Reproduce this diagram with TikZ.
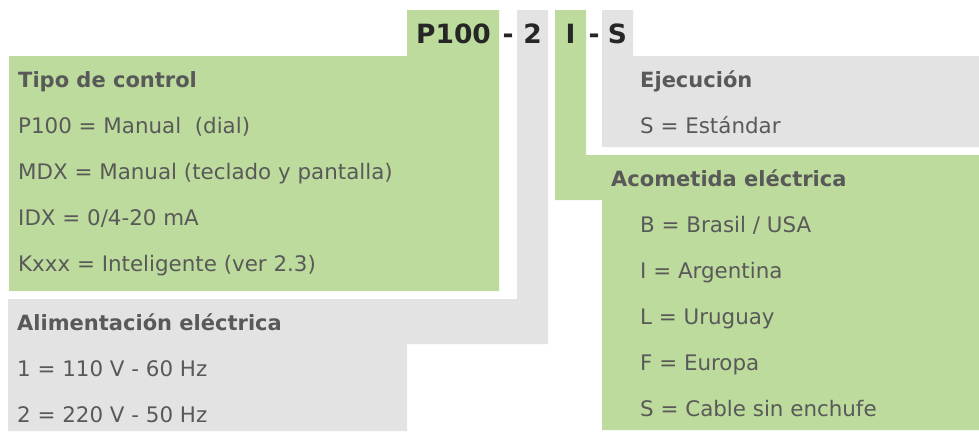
\documentclass[tikz,border=0pt]{standalone}
\usepackage{fontspec}
\setmainfont{DejaVu Sans}
\definecolor{panelgreen}{HTML}{BDDB9C}
\definecolor{panelgray}{HTML}{E3E3E3}
\definecolor{textgray}{HTML}{595959}
\definecolor{codeblack}{HTML}{262626}
\tikzset{
  item/.style={anchor=base west, inner sep=0pt, text=textgray, font=\fontsize{21.4}{25}\selectfont},
  head/.style={item, font=\fontsize{21}{25}\selectfont\bfseries},
  code/.style={anchor=base, inner sep=0pt, text=codeblack, font=\fontsize{26.5}{30}\selectfont\bfseries}
}

\begin{document}
\begin{tikzpicture}[x=1pt, y=-1pt]
  \useasboundingbox (0,0) rectangle (979,431);

  % Draw the panels
  \fill[panelgreen] (407,10) -- (499,10) -- (499,291) -- (9,291) -- (9,56) -- (407,56) -- cycle;
  \fill[panelgray] (517,10) -- (548,10) -- (548,344) -- (407,344) -- (407,431) -- (8,431) -- (8,299) -- (517,299) -- cycle;
  \fill[panelgreen] (555,10) -- (586,10) -- (586,155) -- (979,155) -- (979,430) -- (602,430) -- (602,200) -- (555,200) -- cycle;
  \fill[panelgray] (602,10) -- (633,10) -- (633,56) -- (979,56) -- (979,147) -- (602,147) -- cycle;

  % Model code
  \node[code] (cP) at (453.5,43) {P100};
  \node[code] (d1) at (508,43) {-};
  \node[code] (c2) at (532.5,43) {2};
  \node[code] (cI) at (570.5,43) {I};
  \node[code] (d2) at (594,43) {-};
  \node[code] (cS) at (617.5,43) {S};

  % Tipo de control
  \node[head] (tipo) at (18,87) {Tipo de control};
  \node[item] (tipo1) at (18,133) {P100 = Manual\ \ (dial)};
  \node[item] (tipo2) at (18,179) {MDX = Manual (teclado y pantalla)};
  \node[item] (tipo3) at (18,225) {IDX = 0/4-20 mA};
  \node[item] (tipo4) at (18,271) {Kxxx = Inteligente (ver 2.3)};

  % Alimentacion
  \node[head] (alim) at (17,330) {Alimentación eléctrica};
  \node[item] (alim1) at (17,376) {1 = 110 V - 60 Hz};
  \node[item] (alim2) at (17,422) {2 = 220 V - 50 Hz};

  % Ejecucion
  \node[head] (ejec) at (640,87) {Ejecución};
  \node[item] (ejec1) at (640,133) {S = Estándar};

  % Acometida
  \node[head] (acom) at (611,186) {Acometida eléctrica};
  \node[item] (acom1) at (640,232) {B = Brasil / USA};
  \node[item] (acom2) at (640,278) {I = Argentina};
  \node[item] (acom3) at (640,324) {L = Uruguay};
  \node[item] (acom4) at (640,370) {F = Europa};
  \node[item] (acom5) at (640,416) {S = Cable sin enchufe};

\end{tikzpicture}
\end{document}
